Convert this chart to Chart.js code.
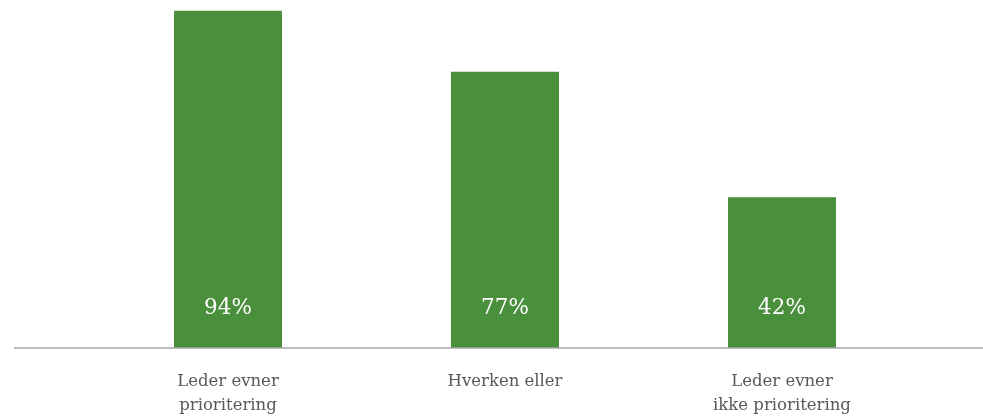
<!DOCTYPE html>
<html>
<head>
<meta charset="utf-8">
<script src="https://cdn.jsdelivr.net/npm/chart.js@4"></script>
<style>
html,body{margin:0;padding:0;background:#fff;}
#wrap{width:983px;height:416px;position:relative;}
</style>
</head>
<body>
<div id="wrap"><canvas id="c" width="983" height="416"></canvas></div>
<script>
const categories = [["Leder evner","prioritering"],["Hverken eller"],["Leder evner","ikke prioritering"]];
const values = [94, 77, 42];
const valueLabels = ["94%", "77%", "42%"];

const baselinePlugin = {
  id: 'baseline',
  afterDatasetsDraw(chart) {
    const ctx = chart.ctx;
    const y = chart.scales.y.getPixelForValue(0);
    ctx.save();
    ctx.strokeStyle = '#a6a6a6';
    ctx.lineWidth = 1.5;
    ctx.beginPath();
    ctx.moveTo(14, y);
    ctx.lineTo(983, y);
    ctx.stroke();
    const meta = chart.getDatasetMeta(0);
    ctx.fillStyle = '#ffffff';
    ctx.font = '21.5px "DejaVu Serif", serif';
    ctx.textAlign = 'center';
    ctx.textBaseline = 'middle';
    meta.data.forEach((bar, i) => {
      ctx.fillText(valueLabels[i], bar.x, y - 40);
    });
    ctx.restore();
  }
};

new Chart(document.getElementById('c'), {
  type: 'bar',
  data: {
    labels: categories,
    datasets: [{
      data: values,
      backgroundColor: '#4a8f3b',
      borderWidth: 0,
      categoryPercentage: 1,
      barPercentage: 0.39
    }]
  },
  options: {
    responsive: false,
    animation: false,
    layout: { padding: { left: 89.5, right: 62.5, top: 0, bottom: 0 } },
    plugins: { legend: { display: false }, tooltip: { enabled: false } },
    scales: {
      y: { display: false, min: 0, max: 97.0 },
      x: {
        grid: { display: false },
        border: { display: false },
        ticks: { color: '#595959', font: { family: '"DejaVu Serif", serif', size: 16.5, lineHeight: 1.45 }, padding: 14, maxRotation: 0 },
        afterFit(s) { s.height = 68; }
      }
    }
  },
  plugins: [baselinePlugin]
});
</script>
</body>
</html>
